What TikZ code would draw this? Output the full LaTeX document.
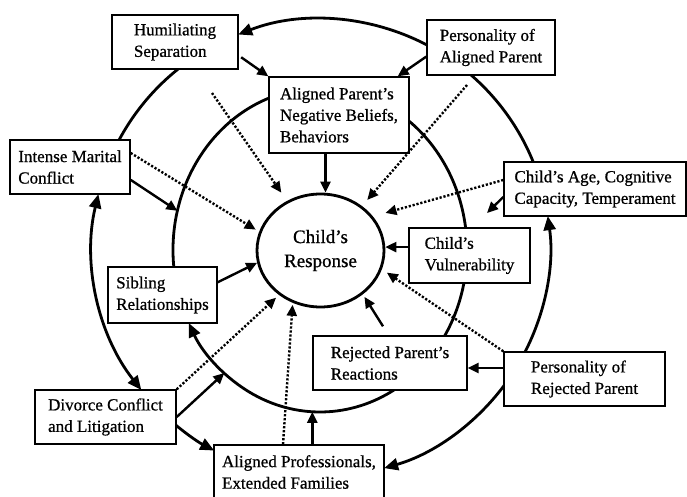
\documentclass[tikz,border=0pt]{standalone}
\usepackage{fontspec}
\setmainfont{Liberation Serif}[FakeBold=0.8]
\usepackage{tikz}
\usetikzlibrary{arrows.meta,shapes.geometric}

\begin{document}
\begin{tikzpicture}[x=1pt,y=1pt,>={Triangle[length=11pt,width=10pt]},line width=2.4pt]
  \tikzstyle{factor}=[draw,line width=1.4pt,fill=white,align=left,inner sep=2pt,font=\fontsize{17}{21.5}\selectfont]
  \tikzstyle{ring}=[line width=2.8pt]
  \tikzstyle{ringto}=[-{Triangle[length=14pt,width=12pt]}]
  \tikzstyle{dots}=[->,dash pattern=on 2.2pt off 1.8pt]

  \useasboundingbox (0,0) rectangle (687,496);
  \coordinate (outer) at (321,248);
  \coordinate (inner) at (320,246);

  % outer ring
  \draw[ring,ringto] ([shift={(61:229pt)}]outer) arc[start angle=61,end angle=111.2,radius=229pt];
  \draw[ring] ([shift={(126:229pt)}]outer) arc[start angle=126,end angle=154,radius=229pt];
  \draw[ring,{Triangle[length=14pt,width=12pt]}-{Triangle[length=14pt,width=12pt]}] ([shift={(166.4:229pt)}]outer) arc[start angle=166.4,end angle=218.3,radius=229pt];
  \draw[ring,ringto] ([shift={(228:229pt)}]outer) arc[start angle=228,end angle=242.2,radius=229pt];
  \draw[ring,ringto] ([shift={(-34:229pt)}]outer) arc[start angle=-34,end angle=-74,radius=229pt];
  \draw[ring,ringto] ([shift={(-30:229pt)}]outer) arc[start angle=-30,end angle=8,radius=229pt];
  \draw[ring] ([shift={(20:229pt)}]outer) arc[start angle=20,end angle=51,radius=229pt];

  % inner ring
  \draw[ring] ([shift={(55:147pt and 162pt)}]inner) arc[start angle=55,end angle=5,x radius=147pt,y radius=162pt];
  \draw[ring] ([shift={(-9:147pt and 162pt)}]inner) arc[start angle=-9,end angle=-35,x radius=147pt,y radius=162pt];
  \draw[ring,ringto] ([shift={(-57:147pt and 162pt)}]inner) arc[start angle=-57,end angle=-153.2,x radius=147pt,y radius=162pt];
  \draw[ring] ([shift={(188:147pt and 162pt)}]inner) arc[start angle=188,end angle=108,x radius=147pt,y radius=162pt];

  \node[factor,minimum width=126pt,minimum height=54pt] (hum) at (175,454) {Humiliating\\Separation};
  \node[factor,minimum width=140pt,minimum height=76pt] (apb) at (339,381) {Aligned Parent's\\Negative Beliefs,\\Behaviors};
  \node[factor,minimum width=128pt,minimum height=55pt] (pap) at (491,448.5) {Personality of\\Aligned Parent};
  \node[factor,minimum width=120pt,minimum height=54pt] (imc) at (70,329) {Intense Marital\\Conflict};
  \node[factor,minimum width=182pt,minimum height=54pt] (cac) at (595,307) {Child's Age, Cognitive\\Capacity, Temperament};
  \node[factor,minimum width=121pt,minimum height=55pt] (cvu) at (469.5,240.5) {Child's\\Vulnerability};
  \node[factor,minimum width=109pt,minimum height=56pt] (sib) at (162.5,201) {Sibling\\Relationships};
  \node[factor,minimum width=154pt,minimum height=54pt] (rpr) at (390,133) {Rejected Parent's\\Reactions};
  \node[factor,minimum width=161pt,minimum height=54pt] (prp) at (584.5,117) {Personality of\\Rejected Parent};
  \node[factor,minimum width=141pt,minimum height=54pt] (dcl) at (105.5,79) {Divorce Conflict\\and Litigation};
  \node[factor,minimum width=170pt,minimum height=54pt] (apf) at (299,24) {Aligned Professionals,\\Extended Families};

  \node[draw,ellipse,line width=2.8pt,minimum width=127pt,minimum height=113pt,align=center,font=\fontsize{19}{24}\selectfont] (child) at (320.5,245.5) {Child's\\Response};

  \coordinate (i-imc) at ([shift={(166:147pt and 162pt)}]inner);
  \coordinate (i-dcl) at ([shift={(229.4:147pt and 162pt)}]inner);
  \coordinate (i-bot) at ([shift={(267:147pt and 162pt)}]inner);
  \coordinate (cacpt) at (487,283);
  \coordinate (d-hum) at (212,403);
  \coordinate (d-pap) at (467,411);

  % solid influences
  \draw[->,shorten <=3pt] (hum.-12) -- (apb.north west);
  \draw[->] (pap.188) -- ([xshift=-12pt]apb.north east);
  \draw[->] ([xshift=5pt]child.north |- apb.south) -- ([xshift=5pt]child.north);
  \draw[->] (imc.-12) -- (i-imc);
  \draw[->] (sib.13) -- (child.191);
  \draw[->] (cvu.west |- child.3) -- (child.3);
  \draw[->] ([yshift=-8pt]cac.west) -- (cacpt);
  \draw[->,shorten >=3pt] ([shift={(-7pt,9pt)}]rpr.north) -- (child.-46);
  \draw[->] ([yshift=11pt]prp.west) -- ([yshift=-5pt]rpr.east);
  \draw[->] (dcl.east) -- (i-dcl);
  \draw[->] (apf.north -| i-bot) -- (i-bot);

  % dotted influences
  \draw[dots,shorten >=10pt] (d-hum) -- (child.124);
  \draw[dots,shorten >=4pt] ([yshift=14pt]imc.east) -- (child.163);
  \draw[dots,shorten >=8pt] (d-pap) -- (child.47);
  \draw[dots,shorten >=13pt] ([yshift=9pt]cac.west) -- (child.33);
  \draw[dots,shorten >=6pt] (prp.north west) -- (child.-17);
  \draw[dots,shorten >=4pt] (dcl.north east) -- (child.227);
  \draw[dots,shorten >=2pt] ([xshift=-16pt]apf.north) -- (child.242);
\end{tikzpicture}
\end{document}
